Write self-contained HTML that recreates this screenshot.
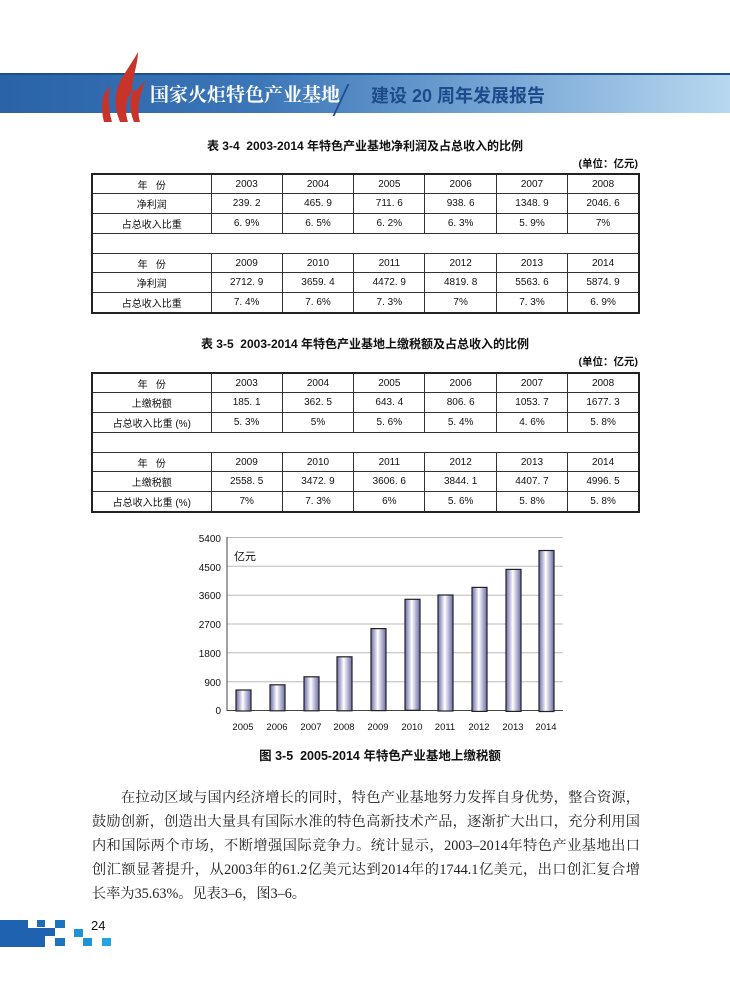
<!DOCTYPE html>
<html><head><meta charset="utf-8"><style>
*{margin:0;padding:0;box-sizing:border-box}
body{width:730px;height:984px;background:#fff;position:relative;overflow:hidden;font-family:"Liberation Sans","Noto Sans CJK SC",sans-serif;color:#111}
.a{position:absolute}
table{position:absolute;left:91px;width:549px;border-collapse:collapse;table-layout:fixed;font-size:10px}
td{border:1px solid #333;height:19.8px;text-align:center;padding:0}
table{border:2px solid #222}
.cap{position:absolute;left:0;width:730px;text-align:center;font-size:12px;font-weight:bold}
.unit{position:absolute;right:92px;font-size:10.5px;font-weight:bold}
.p{position:absolute;left:92px;width:548px;font-family:"Liberation Serif","Noto Serif CJK SC",serif;font-size:14.2px;line-height:24px;color:#222}
.p div{text-align:justify;text-align-last:justify;white-space:nowrap;height:24px}
.p div.l{text-align-last:left}
</style></head><body>
<div class="a" style="left:0;top:73px;width:730px;height:40px;background:linear-gradient(90deg,#2a63a8 0%,#3b76b8 35%,#7aa8d6 70%,#b8d8f0 100%)"></div>
<div class="a" style="left:0;top:73px;width:730px;height:2px;background:#1d4f8f"></div>
<svg class="a" style="left:98px;top:50px" width="50" height="74"><path d="M40 2 C30 20 20 30 18 45 C16 58 20 66 22 72 L30 72 C26 60 28 48 36 38 C30 50 32 62 36 72 L42 72 C38 58 42 44 48 30 C40 40 34 44 34 40 C34 28 40 14 40 2Z" fill="#c8332a"/><path d="M12 36 C4 44 2 56 6 72 L14 72 C10 58 10 46 12 36Z" fill="#c8332a"/></svg>
<div class="a" style="left:150px;top:80px;font-size:19px;color:#fff;font-family:'Noto Serif CJK SC',serif;font-weight:bold">国家火炬特色产业基地</div>
<div class="a" style="left:340px;top:84px;width:2px;height:32px;background:#1d4f8f;transform:skewX(-25deg)"></div>
<div class="a" style="left:371px;top:82px;font-size:18px;color:#1d4a8a;font-weight:bold">建设 20 周年发展报告</div>

<div class="cap" style="top:137px">表 3-4&nbsp; 2003-2014 年特色产业基地净利润及占总收入的比例</div>
<div class="unit" style="top:156px">(单位：亿元)</div>
<table style="top:173px"><colgroup><col style="width:119px"><col><col><col><col><col><col></colgroup>
<tr><td>年&nbsp;&nbsp;&nbsp;份</td><td>2003</td><td>2004</td><td>2005</td><td>2006</td><td>2007</td><td>2008</td></tr>
<tr><td>净利润</td><td>239. 2</td><td>465. 9</td><td>711. 6</td><td>938. 6</td><td>1348. 9</td><td>2046. 6</td></tr>
<tr><td>占总收入比重</td><td>6. 9%</td><td>6. 5%</td><td>6. 2%</td><td>6. 3%</td><td>5. 9%</td><td>7%</td></tr>
<tr><td colspan="7"></td></tr>
<tr><td>年&nbsp;&nbsp;&nbsp;份</td><td>2009</td><td>2010</td><td>2011</td><td>2012</td><td>2013</td><td>2014</td></tr>
<tr><td>净利润</td><td>2712. 9</td><td>3659. 4</td><td>4472. 9</td><td>4819. 8</td><td>5563. 6</td><td>5874. 9</td></tr>
<tr><td>占总收入比重</td><td>7. 4%</td><td>7. 6%</td><td>7. 3%</td><td>7%</td><td>7. 3%</td><td>6. 9%</td></tr>
</table>

<div class="cap" style="top:335px">表 3-5&nbsp; 2003-2014 年特色产业基地上缴税额及占总收入的比例</div>
<div class="unit" style="top:354px">(单位：亿元)</div>
<table style="top:372px"><colgroup><col style="width:119px"><col><col><col><col><col><col></colgroup>
<tr><td>年&nbsp;&nbsp;&nbsp;份</td><td>2003</td><td>2004</td><td>2005</td><td>2006</td><td>2007</td><td>2008</td></tr>
<tr><td>上缴税额</td><td>185. 1</td><td>362. 5</td><td>643. 4</td><td>806. 6</td><td>1053. 7</td><td>1677. 3</td></tr>
<tr><td>占总收入比重 (%)</td><td>5. 3%</td><td>5%</td><td>5. 6%</td><td>5. 4%</td><td>4. 6%</td><td>5. 8%</td></tr>
<tr><td colspan="7"></td></tr>
<tr><td>年&nbsp;&nbsp;&nbsp;份</td><td>2009</td><td>2010</td><td>2011</td><td>2012</td><td>2013</td><td>2014</td></tr>
<tr><td>上缴税额</td><td>2558. 5</td><td>3472. 9</td><td>3606. 6</td><td>3844. 1</td><td>4407. 7</td><td>4996. 5</td></tr>
<tr><td>占总收入比重 (%)</td><td>7%</td><td>7. 3%</td><td>6%</td><td>5. 6%</td><td>5. 8%</td><td>5. 8%</td></tr>
</table>

<svg class="a" style="left:190px;top:525px" width="380" height="240" font-family="Liberation Sans, Noto Sans CJK SC, sans-serif">
<defs><linearGradient id="g" x1="0" x2="1"><stop offset="0" stop-color="#6a6aa8"/><stop offset="0.45" stop-color="#ffffff"/><stop offset="1" stop-color="#6a6aa8"/></linearGradient></defs>
<g stroke="#bbb" stroke-width="1">
<line x1="37" x2="373" y1="12.5" y2="12.5"/><line x1="37" x2="373" y1="41.3" y2="41.3"/><line x1="37" x2="373" y1="70.2" y2="70.2"/><line x1="37" x2="373" y1="99" y2="99"/><line x1="37" x2="373" y1="127.8" y2="127.8"/><line x1="37" x2="373" y1="156.7" y2="156.7"/></g>
<line x1="37" x2="37" y1="12" y2="186" stroke="#444"/>
<line x1="37" x2="373" y1="185.5" y2="185.5" stroke="#444"/>
<g font-size="10" text-anchor="end" fill="#111"><text x="31" y="17">5400</text><text x="31" y="46">4500</text><text x="31" y="74">3600</text><text x="31" y="103">2700</text><text x="31" y="132">1800</text><text x="31" y="161">900</text><text x="31" y="189">0</text></g>
<text x="44" y="35" font-size="11" fill="#111">亿元</text>
<g stroke="#222" stroke-width="1.2" fill="url(#g)">
<rect x="46" y="165" width="15" height="21"/><rect x="80" y="159.8" width="15" height="26"/><rect x="114" y="151.8" width="15" height="34"/><rect x="147" y="131.8" width="15" height="54"/><rect x="181" y="103.6" width="15" height="82"/><rect x="215" y="74.3" width="15" height="111"/><rect x="248" y="70" width="15" height="116"/><rect x="282" y="62.4" width="15" height="124"/><rect x="316" y="44.4" width="15" height="142"/><rect x="349" y="25.5" width="15" height="161"/></g>
<g font-size="9.5" text-anchor="middle" fill="#111"><text x="53" y="205">2005</text><text x="87" y="205">2006</text><text x="121" y="205">2007</text><text x="154" y="205">2008</text><text x="188" y="205">2009</text><text x="222" y="205">2010</text><text x="255" y="205">2011</text><text x="289" y="205">2012</text><text x="323" y="205">2013</text><text x="356" y="205">2014</text></g>
<text x="190" y="235" font-size="12.5" font-weight="bold" text-anchor="middle" fill="#111">图 3-5&nbsp; 2005-2014 年特色产业基地上缴税额</text>
</svg>

<div class="p" style="top:786px">
<div style="padding-left:29px">在拉动区域与国内经济增长的同时，特色产业基地努力发挥自身优势，整合资源，</div>
<div>鼓励创新，创造出大量具有国际水准的特色高新技术产品，逐渐扩大出口，充分利用国</div>
<div>内和国际两个市场，不断增强国际竞争力。统计显示，2003–2014年特色产业基地出口</div>
<div>创汇额显著提升，从2003年的61.2亿美元达到2014年的1744.1亿美元，出口创汇复合增</div>
<div class="l">长率为35.63%。见表3–6，图3–6。</div>
</div>

<div class="a" style="left:0;top:920px;width:45px;height:27px;background:#1f63b0"></div>
<div class="a" style="left:28px;top:920px;width:17px;height:8px;background:#fff"></div>
<div class="a" style="left:37px;top:920px;width:8px;height:7px;background:#1f6ab8"></div>
<div class="a" style="left:55px;top:920px;width:10px;height:8px;background:#1a74c0"></div>
<div class="a" style="left:45px;top:928px;width:10px;height:8px;background:#1f63b0"></div>
<div class="a" style="left:55px;top:938px;width:10px;height:8px;background:#1a74c0"></div>
<div class="a" style="left:74px;top:929px;width:9px;height:8px;background:#1d94d8"></div>
<div class="a" style="left:83px;top:938px;width:9px;height:8px;background:#1d94d8"></div>
<div class="a" style="left:102px;top:938px;width:9px;height:8px;background:#22a6e2"></div>
<div class="a" style="left:91px;top:918px;font-size:13px;color:#111">24</div>
</body></html>
